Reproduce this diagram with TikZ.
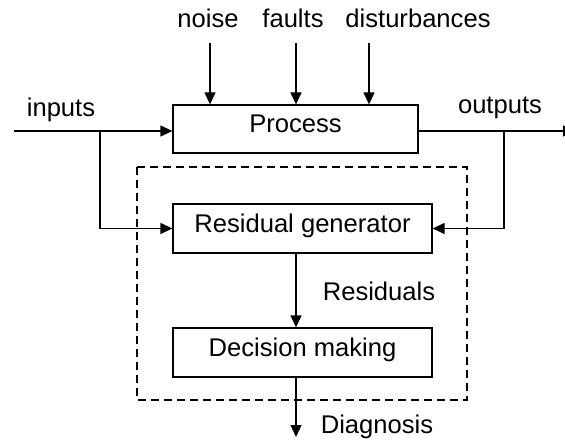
\documentclass[tikz,border=0pt]{standalone}
\usepackage{fontspec}
\setmainfont{Liberation Sans}
\usetikzlibrary{arrows.meta}
\begin{document}
\begin{tikzpicture}[x=1pt,y=-1pt,
  font=\fontsize{25.6}{30}\selectfont,
  line width=1.3pt,
  >={Triangle[length=12pt,width=11pt]},
  block/.style={draw,rectangle,minimum height=48pt,inner sep=0pt,text height=0.72em,text depth=0pt},
  lbl/.style={inner sep=0pt,anchor=base},
  frame/.style={draw,dash pattern=on 8pt off 5pt,line width=1.2pt}]
\useasboundingbox (0,0) rectangle (565,441);

% main blocks
\node[block,minimum width=245pt] (process)  at (295.5,129) {Process};
\node[block,minimum width=259pt,minimum height=49pt] (resgen)   at (302.5,228.5) {Residual generator};
\node[block,minimum width=259pt,minimum height=49pt] (decision) at (302.5,352.5) {Decision making};

% diagnosis system boundary
\draw[frame] (137,167) rectangle (467,400);

% external influences on the process
\node[lbl] (noise)  at (208,28) {noise};
\node[lbl] (faults) at (293,28) {faults};
\node[lbl] (dist)   at (418,28) {disturbances};
\coordinate (n1) at (210,43);
\coordinate (n2) at (296,43);
\coordinate (n3) at (369,43);
\draw[->] (n1) -- (n1 |- process.north);
\draw[->] (n2) -- (n2 |- process.north);
\draw[->] (n3) -- (n3 |- process.north);

% inputs
\node[lbl] (inlbl) at (61,117) {inputs};
\coordinate (in) at (14,131);
\coordinate (bi) at (100,131);
\draw[->] (in) -- (in -| process.west);
\draw[->] (bi) |- (resgen.west);

% outputs
\node[lbl] (outlbl) at (500,114) {outputs};
\coordinate (out) at (575,131);
\coordinate (bo) at (504,131);
\draw[->] (process.east |- out) -- (out);
\draw[->] (bo) |- (resgen.east);

% residuals and diagnosis
\draw[->] ([xshift=-6.5pt]resgen.south) -- ([xshift=-6.5pt]decision.north);
\node[lbl] (reslbl) at (379,300) {Residuals};
\coordinate (diag) at (296,437);
\draw[->] ([xshift=-6.5pt]decision.south) -- (diag);
\node[lbl] (diaglbl) at (377,433) {Diagnosis};
\end{tikzpicture}
\end{document}
